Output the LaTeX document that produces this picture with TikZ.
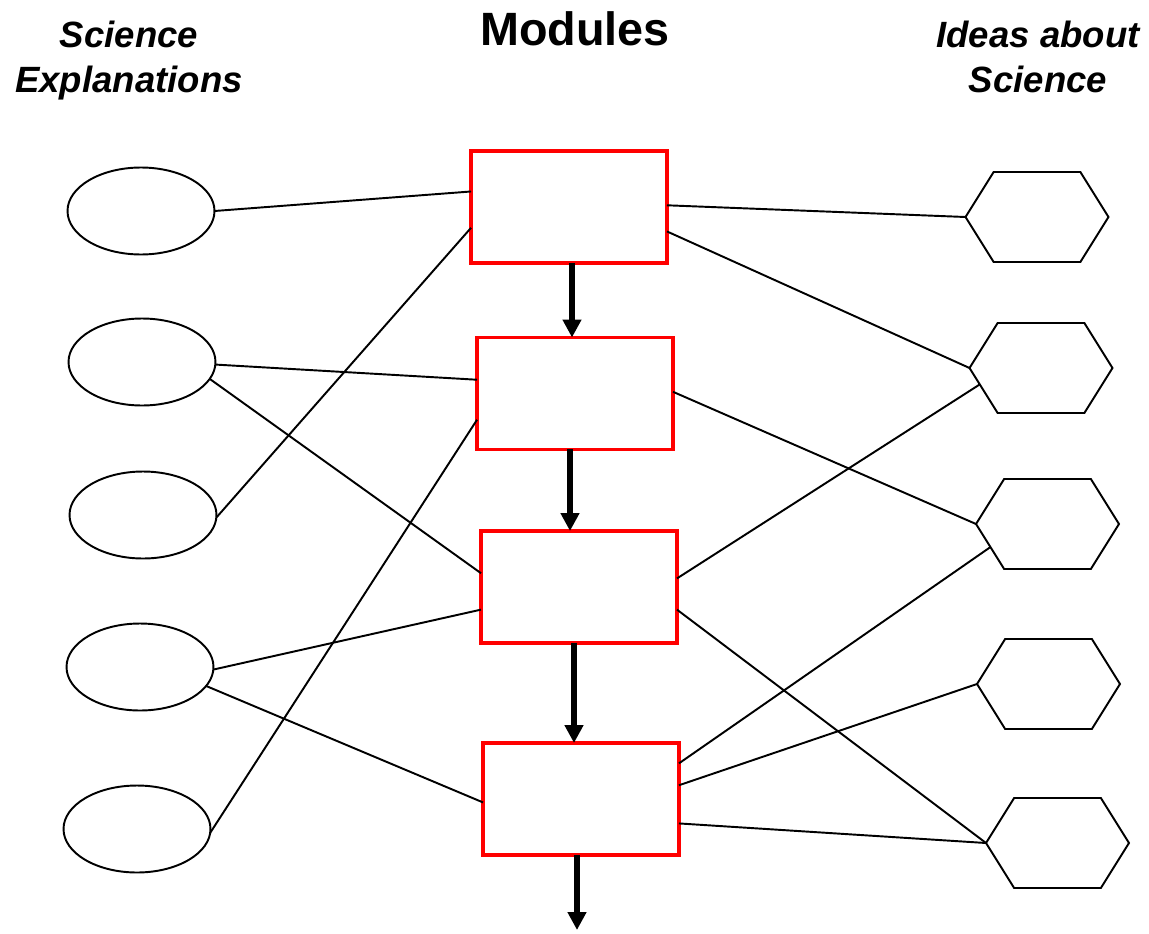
\documentclass[tikz,border=0pt]{standalone}
\usepackage{fontspec}
\setmainfont{Liberation Sans}
\usetikzlibrary{arrows.meta,shapes.geometric,shapes.symbols,calc}

\begin{document}
\begin{tikzpicture}[x=0.02cm,y=-0.02cm,
  expl/.style={draw,ellipse,line width=1.1pt,minimum width=2.94cm,minimum height=1.74cm,inner sep=0pt,outer sep=0pt},
  module/.style={draw=red,rectangle,line width=1.9pt,minimum width=3.92cm,minimum height=2.24cm,inner sep=0pt,outer sep=0pt},
  idea/.style={draw,signal,signal to=east and west,signal pointer angle=116,line width=1.1pt,minimum width=2.86cm,minimum height=1.8cm,inner sep=0pt,outer sep=0pt},
  link/.style={line width=1.1pt},
  flow/.style={line width=3pt,-{Triangle[length=0.36cm,width=0.36cm]}},
  heading/.style={font=\bfseries\itshape\fontsize{20.8}{25.6}\selectfont,align=center,inner sep=0pt,anchor=north}]
\useasboundingbox (0,0) rectangle (1149,933);

% column headings
\node[heading] (sci) at (129,21) {Science\\Explanations};
\node[font=\bfseries\fontsize{26.6}{32}\selectfont,inner sep=0pt,anchor=base] (mod) at (575,45) {Modules};
\node[heading] (ideas) at (1038,21) {Ideas about\\Science};

% science explanations
\node[expl] (e1) at (141,211) {};
\node[expl] (e2) at (142,362) {};
\node[expl] (e3) at (143,515) {};
\node[expl] (e4) at (140,667) {};
\node[expl] (e5) at (137,829) {};

% modules
\node[module] (m1) at (569,207) {};
\node[module] (m2) at (575,393.5) {};
\node[module] (m3) at (579,587) {};
\node[module] (m4) at (581,799) {};

% ideas about science
\node[idea] (h1) at (1037,217) {};
\node[idea] (h2) at (1041,368) {};
\node[idea] (h3) at (1047.5,524) {};
\node[idea] (h4) at (1048.5,684) {};
\node[idea] (h5) at (1057.5,843) {};

% sequence of modules
\coordinate (next) at (577,930);
\draw[flow] ([xshift=0.06cm]m1.south) -- ([xshift=0.06cm]m1.south |- m2.north);
\draw[flow] ([xshift=-0.1cm]m2.south) -- ([xshift=-0.1cm]m2.south |- m3.north);
\draw[flow] ([xshift=-0.1cm]m3.south) -- ([xshift=-0.1cm]m3.south |- m4.north);
\draw[flow] (m4.south -| next) -- (next);

% links
\foreach \a/\b in {e1.east/m1.171, m1.192/e3.-2, e2.-2/m2.172, e2.-14/m3.172,
  m2.195/e5.-3, e4.-2/m3.193, e4.-16/m4.182,
  m1.1/h1.west, m1.-14/h2.west, m2.1/h3.west, m3.5/h2.195, m3.-13/h5.west,
  m4.20/h3.202, m4.8/h4.west, m4.-14/h5.west}
  \draw[link] (\a) -- (\b);
\end{tikzpicture}
\end{document}
